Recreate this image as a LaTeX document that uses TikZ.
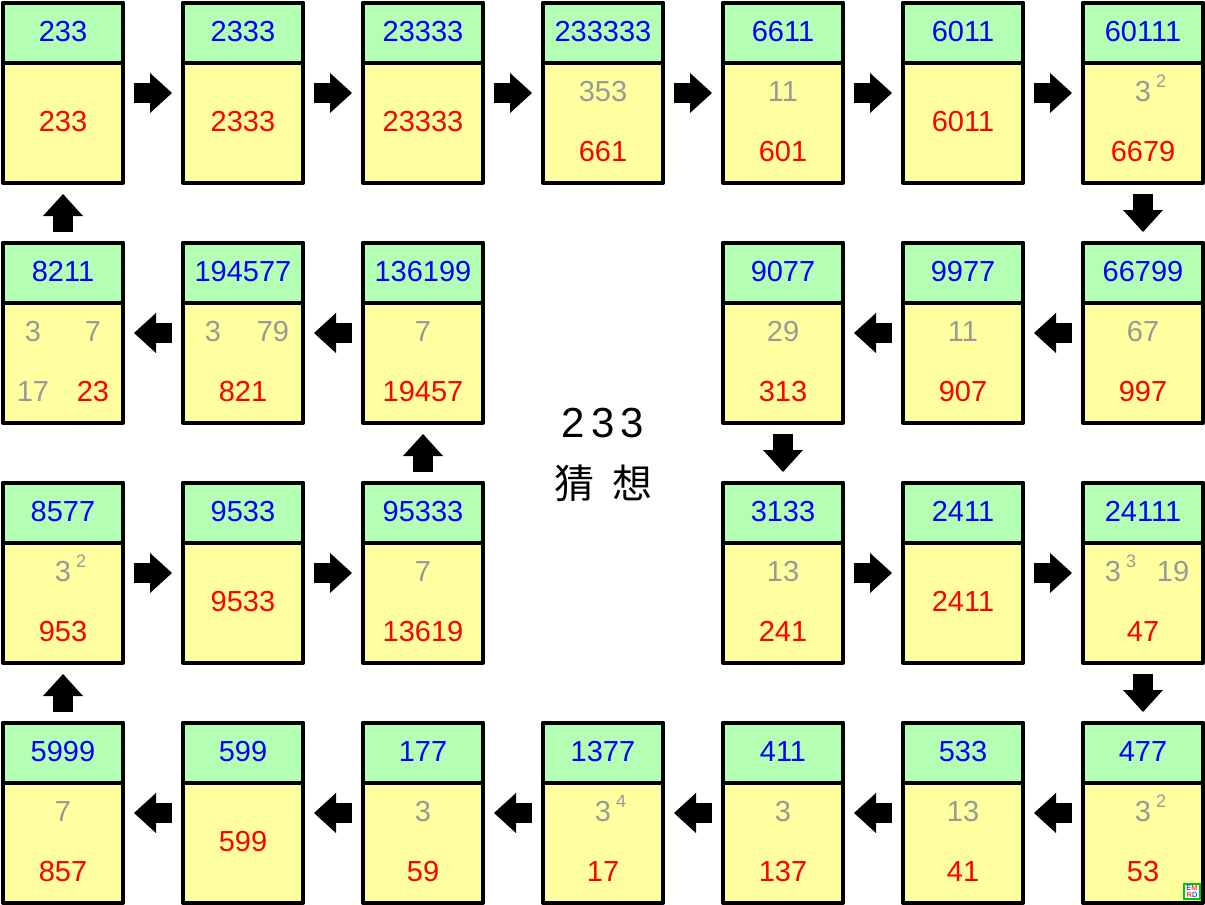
\documentclass[tikz,border=0pt]{standalone}
\usepackage{fontspec}
\setmainfont{Liberation Sans}
\newfontfamily\cjk{Noto Sans CJK SC}
\usetikzlibrary{arrows.meta}
\definecolor{headgreen}{RGB}{179,255,179}
\definecolor{bodyyellow}{RGB}{255,255,160}
\definecolor{numblue}{RGB}{0,0,255}
\definecolor{facgrey}{RGB}{153,153,153}
\definecolor{resred}{RGB}{255,0,0}
\definecolor{logogreen}{RGB}{0,200,0}
\newcommand\numfont{\fontsize{29}{32}\selectfont}
\newcommand\powr[1]{\rlap{\kern5pt\raisebox{14pt}{\fontsize{18}{18}\selectfont #1}}}

\begin{document}
\begin{tikzpicture}[x=1pt,y=-1pt]
\tikzstyle{box} = [rectangle,draw,line width=4pt,line join=round,fill=bodyyellow,
minimum width=120pt,minimum height=180pt,inner sep=0pt,outer sep=0pt]
\tikzstyle{hdr} = [rectangle,draw,line width=4pt,line join=round,fill=headgreen,
minimum width=120pt,minimum height=60pt,inner sep=0pt,outer sep=0pt,anchor=north,
text=numblue,font=\numfont,text depth=3pt]
\tikzstyle{fac} = [anchor=base,inner sep=0pt,text=facgrey,font=\numfont]
\tikzstyle{res} = [anchor=base,inner sep=0pt,text=resred,font=\numfont]
\tikzstyle{flow} = [line width=20pt,-{Triangle[width=40pt,length=22pt,line width=0pt]},
shorten <=11pt,shorten >=11pt]
\useasboundingbox (0,0) rectangle (1205,905);

% row 1
\node[box] (n233) at (63,93) {};
\node[hdr] (h233) at (n233.north) {233};
\node[res] (r233) at (63,131.5) {233};
\node[box] (n2333) at (243,93) {};
\node[hdr] (h2333) at (n2333.north) {2333};
\node[res] (r2333) at (243,131.5) {2333};
\node[box] (n23333) at (423,93) {};
\node[hdr] (h23333) at (n23333.north) {23333};
\node[res] (r23333) at (423,131.5) {23333};
\node[box] (n233333) at (603,93) {};
\node[hdr] (h233333) at (n233333.north) {233333};
\node[fac] (g233333) at (603,101.5) {353};
\node[res] (r233333) at (603,161) {661};
\node[box] (n6611) at (783,93) {};
\node[hdr] (h6611) at (n6611.north) {6611};
\node[fac] (g6611) at (783,101.5) {11};
\node[res] (r6611) at (783,161) {601};
\node[box] (n6011) at (963,93) {};
\node[hdr] (h6011) at (n6011.north) {6011};
\node[res] (r6011) at (963,131.5) {6011};
\node[box] (n60111) at (1143,93) {};
\node[hdr] (h60111) at (n60111.north) {60111};
\node[fac] (g60111) at (1143,101.5) {3\powr{2}};
\node[res] (r60111) at (1143,161) {6679};

% row 2
\node[box] (n8211) at (63,333) {};
\node[hdr] (h8211) at (n8211.north) {8211};
\node[fac] (g8211a) at (33,341.5) {3};
\node[fac] (g8211b) at (93,341.5) {7};
\node[fac] (g8211c) at (33,401) {17};
\node[res] (r8211) at (93,401) {23};
\node[box] (n194577) at (243,333) {};
\node[hdr] (h194577) at (n194577.north) {194577};
\node[fac] (g194577a) at (213,341.5) {3};
\node[fac] (g194577b) at (273,341.5) {79};
\node[res] (r194577) at (243,401) {821};
\node[box] (n136199) at (423,333) {};
\node[hdr] (h136199) at (n136199.north) {136199};
\node[fac] (g136199) at (423,341.5) {7};
\node[res] (r136199) at (423,401) {19457};
\node[box] (n9077) at (783,333) {};
\node[hdr] (h9077) at (n9077.north) {9077};
\node[fac] (g9077) at (783,341.5) {29};
\node[res] (r9077) at (783,401) {313};
\node[box] (n9977) at (963,333) {};
\node[hdr] (h9977) at (n9977.north) {9977};
\node[fac] (g9977) at (963,341.5) {11};
\node[res] (r9977) at (963,401) {907};
\node[box] (n66799) at (1143,333) {};
\node[hdr] (h66799) at (n66799.north) {66799};
\node[fac] (g66799) at (1143,341.5) {67};
\node[res] (r66799) at (1143,401) {997};

% row 3
\node[box] (n8577) at (63,573) {};
\node[hdr] (h8577) at (n8577.north) {8577};
\node[fac] (g8577) at (63,581.5) {3\powr{2}};
\node[res] (r8577) at (63,641) {953};
\node[box] (n9533) at (243,573) {};
\node[hdr] (h9533) at (n9533.north) {9533};
\node[res] (r9533) at (243,611.5) {9533};
\node[box] (n95333) at (423,573) {};
\node[hdr] (h95333) at (n95333.north) {95333};
\node[fac] (g95333) at (423,581.5) {7};
\node[res] (r95333) at (423,641) {13619};
\node[box] (n3133) at (783,573) {};
\node[hdr] (h3133) at (n3133.north) {3133};
\node[fac] (g3133) at (783,581.5) {13};
\node[res] (r3133) at (783,641) {241};
\node[box] (n2411) at (963,573) {};
\node[hdr] (h2411) at (n2411.north) {2411};
\node[res] (r2411) at (963,611.5) {2411};
\node[box] (n24111) at (1143,573) {};
\node[hdr] (h24111) at (n24111.north) {24111};
\node[fac] (g24111a) at (1113,581.5) {3\powr{3}};
\node[fac] (g24111b) at (1173,581.5) {19};
\node[res] (r24111) at (1143,641) {47};

% row 4
\node[box] (n5999) at (63,813) {};
\node[hdr] (h5999) at (n5999.north) {5999};
\node[fac] (g5999) at (63,821.5) {7};
\node[res] (r5999) at (63,881) {857};
\node[box] (n599) at (243,813) {};
\node[hdr] (h599) at (n599.north) {599};
\node[res] (r599) at (243,851.5) {599};
\node[box] (n177) at (423,813) {};
\node[hdr] (h177) at (n177.north) {177};
\node[fac] (g177) at (423,821.5) {3};
\node[res] (r177) at (423,881) {59};
\node[box] (n1377) at (603,813) {};
\node[hdr] (h1377) at (n1377.north) {1377};
\node[fac] (g1377) at (603,821.5) {3\powr{4}};
\node[res] (r1377) at (603,881) {17};
\node[box] (n411) at (783,813) {};
\node[hdr] (h411) at (n411.north) {411};
\node[fac] (g411) at (783,821.5) {3};
\node[res] (r411) at (783,881) {137};
\node[box] (n533) at (963,813) {};
\node[hdr] (h533) at (n533.north) {533};
\node[fac] (g533) at (963,821.5) {13};
\node[res] (r533) at (963,881) {41};
\node[box] (n477) at (1143,813) {};
\node[hdr] (h477) at (n477.north) {477};
\node[fac] (g477) at (1143,821.5) {3\powr{2}};
\node[res] (r477) at (1143,881) {53};

% title
\node[font=\fontsize{42}{44}\selectfont] (title) at (603,423) {2\kern6pt3\kern6pt3};
\node[font={\cjk\fontsize{40}{42}\selectfont}] (conj) at (603,483) {猜\kern18pt想};

% logo
\node[draw=logogreen,fill=white,line width=1.2pt,inner sep=0pt,align=center,
minimum width=16pt,minimum height=15pt,font=\fontsize{7.5}{7}\selectfont]
(logo) at (1192,891.5) {{\color{blue}E}{\color{red}M}\\{\color{red}R}{\color{blue}D}};

% arrows
\draw [flow] (n233) -- (n2333);
\draw [flow] (n2333) -- (n23333);
\draw [flow] (n23333) -- (n233333);
\draw [flow] (n233333) -- (n6611);
\draw [flow] (n6611) -- (n6011);
\draw [flow] (n6011) -- (n60111);
\draw [flow] (n60111) -- (n66799);
\draw [flow] (n66799) -- (n9977);
\draw [flow] (n9977) -- (n9077);
\draw [flow] (n9077) -- (n3133);
\draw [flow] (n3133) -- (n2411);
\draw [flow] (n2411) -- (n24111);
\draw [flow] (n24111) -- (n477);
\draw [flow] (n477) -- (n533);
\draw [flow] (n533) -- (n411);
\draw [flow] (n411) -- (n1377);
\draw [flow] (n1377) -- (n177);
\draw [flow] (n177) -- (n599);
\draw [flow] (n599) -- (n5999);
\draw [flow] (n5999) -- (n8577);
\draw [flow] (n8577) -- (n9533);
\draw [flow] (n9533) -- (n95333);
\draw [flow] (n95333) -- (n136199);
\draw [flow] (n136199) -- (n194577);
\draw [flow] (n194577) -- (n8211);
\draw [flow] (n8211) -- (n233);
\end{tikzpicture}
\end{document}
